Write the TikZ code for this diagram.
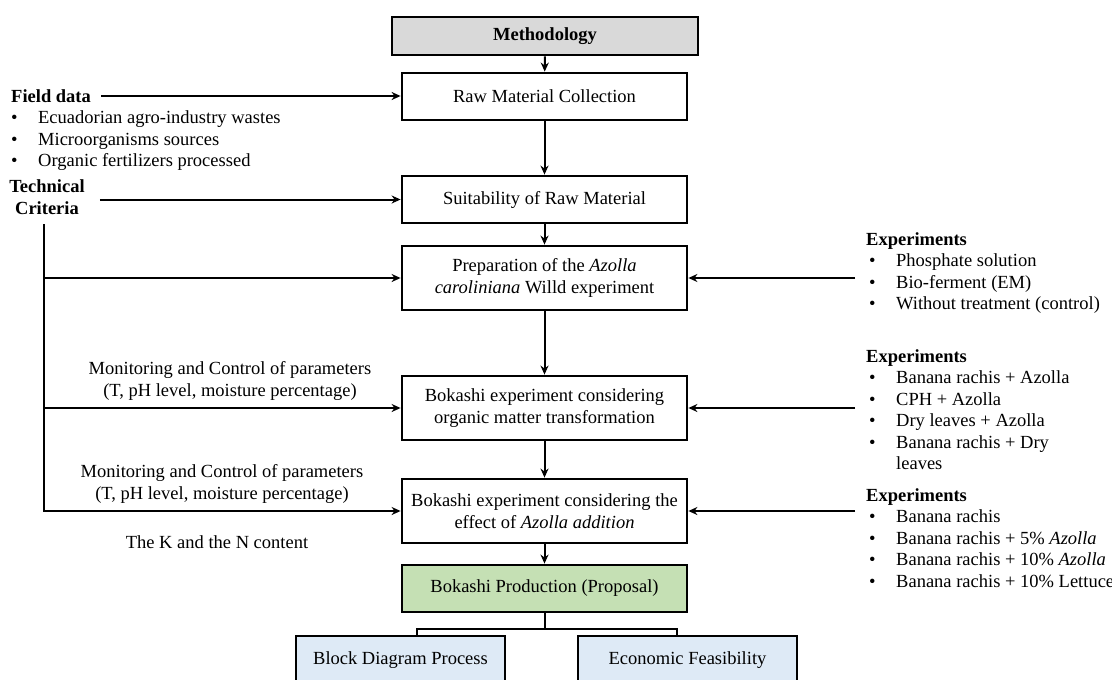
\documentclass[tikz,border=0pt]{standalone}
\usepackage{fontspec}
\setmainfont{Liberation Serif}
\usepackage{xcolor}
\usepackage{tikz}
\usetikzlibrary{arrows.meta}
\definecolor{methgray}{RGB}{217,217,217}
\definecolor{prodgreen}{RGB}{197,224,180}
\definecolor{outblue}{RGB}{222,234,246}
\newcommand{\bul}{\makebox[27pt][l]{\textbullet}}

\begin{document}
\begin{tikzpicture}[x=1pt,y=-1pt,
    font=\fontsize{18.5}{21.5}\selectfont,
    box/.style={draw,line width=2.8pt,minimum width=285pt,align=center,inner sep=0pt},
    txt/.style={align=left,inner sep=0pt},
    line/.style={line width=2pt},
    >={Stealth[length=9pt,width=8pt]}]
    \useasboundingbox (0,0) rectangle (1112,680);

    % main column
    \node[box,fill=methgray,minimum width=306pt,minimum height=38pt] (meth) at (545,36) {\textbf{Methodology}};
    \node[box,minimum height=47pt] (raw) at (544.5,96.5) {Raw Material Collection};
    \node[box,minimum height=47pt] (suit) at (544.5,199.5) {Suitability of Raw Material};
    \node[box,minimum height=64pt] (prep) at (544.5,278) {Preparation of the \textit{Azolla}\\\textit{caroliniana} Willd experiment};
    \node[box,minimum height=64pt] (bok1) at (544.5,408) {Bokashi experiment considering\\organic matter transformation};
    \node[box,minimum height=64pt] (bok2) at (544.5,511) {Bokashi experiment considering the\\effect of \textit{Azolla addition}};
    \node[box,fill=prodgreen,minimum height=47pt] (prod) at (544.5,588.5) {Bokashi Production (Proposal)};
    \node[box,fill=outblue,minimum width=209pt,minimum height=48pt] (block) at (400.5,660) {Block Diagram Process};
    \node[box,fill=outblue,minimum width=219pt,minimum height=48pt] (econ) at (687.5,660) {Economic Feasibility};

    \draw[line,->] (meth) -- (raw);
    \draw[line,->] (raw) -- (suit);
    \draw[line,->] (suit) -- (prep);
    \draw[line,->] (prep) -- (bok1);
    \draw[line,->] (bok1) -- (bok2);
    \draw[line,->] (bok2) -- (prod);
    \draw[line] (prod.south) -- ++(0,16) coordinate (fork);
    \draw[line] ([xshift=16.5pt]block.north) |- (fork) -| ([xshift=-10.5pt]econ.north);

    % left side
    \node[txt,anchor=west,font=\fontsize{18.5}{21.5}\selectfont\bfseries] (field) at (11,96) {Field data};
    \node[txt,anchor=west] (fieldlist) at (11,141) {\bul Ecuadorian agro-industry wastes\\\bul Microorganisms sources\\\bul Organic fertilizers processed};
    \node[align=center,inner sep=0pt,font=\fontsize{18.5}{21.5}\selectfont\bfseries] (tech) at (47,197) {Technical\\Criteria};
    \draw[line,->] ([xshift=10pt]field.east) -- (field.east -| raw.west);
    \draw[line,->] ([xshift=15pt]tech.east |- suit.west) -- (suit.west);

    \coordinate (trunk) at (44,224);
    \draw[line,->] (trunk) |- (bok2.west);
    \draw[line,->] (trunk |- prep.west) -- (prep.west);
    \draw[line,->] (trunk |- bok1.west) -- (bok1.west);

    \node[align=center,inner sep=0pt] (mon1) at (230,381) {Monitoring and Control of parameters\\(T, pH level, moisture percentage)};
    \node[align=center,inner sep=0pt] (mon2) at (222,484) {Monitoring and Control of parameters\\(T, pH level, moisture percentage)};
    \node[inner sep=0pt] (kn) at (217,542) {The K and the N content};

    % right side
    \node[txt,anchor=west] (exp1) at (866,273) {\textbf{Experiments}\\\hspace*{3pt}\bul Phosphate solution\\\hspace*{3pt}\bul Bio-ferment (EM)\\\hspace*{3pt}\bul Without treatment (control)};
    \node[txt,anchor=west] (exp2) at (866,409.5) {\textbf{Experiments}\\\hspace*{3pt}\bul Banana rachis + Azolla\\\hspace*{3pt}\bul CPH + Azolla\\\hspace*{3pt}\bul Dry leaves + Azolla\\\hspace*{3pt}\bul Banana rachis + Dry\\\hspace*{30pt}leaves};
    \node[txt,anchor=west] (exp3) at (866,538) {\textbf{Experiments}\\\hspace*{3pt}\bul Banana rachis\\\hspace*{3pt}\bul Banana rachis + 5\% \textit{Azolla}\\\hspace*{3pt}\bul Banana rachis + 10\% \textit{Azolla}\\\hspace*{3pt}\bul Banana rachis + 10\% Lettuce};

    \draw[line,->] ([xshift=-11pt]exp1.west |- prep.east) -- (prep.east);
    \draw[line,->] ([xshift=-11pt]exp2.west |- bok1.east) -- (bok1.east);
    \draw[line,->] ([xshift=-11pt]exp3.west |- bok2.east) -- (bok2.east);
\end{tikzpicture}
\end{document}
